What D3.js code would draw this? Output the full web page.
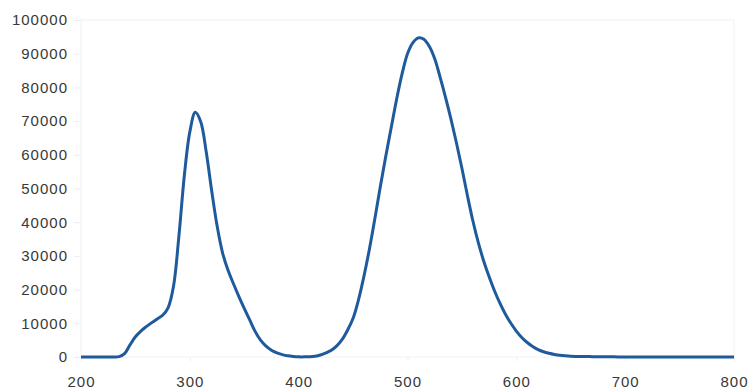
<!DOCTYPE html>
<html>
<head>
<meta charset="utf-8">
<script src="https://cdn.jsdelivr.net/npm/d3@7"></script>
<style>
  html, body { margin: 0; padding: 0; background: #fff; }
  svg { display: block; }
  .tick text { font-family: "Liberation Sans", Arial, sans-serif; font-size: 15px; letter-spacing: 1px; fill: #383838; }
</style>
</head>
<body>
<svg id="chart" width="750" height="390"></svg>
<script>
// Spectrum: wavelength (nm) vs. intensity
const wavelength = [200,205,210,215,220,225,230,235,240,245,250,255,260,265,270,275,280,285,290,295,
  300,305,310,315,320,325,330,335,340,345,350,355,360,365,370,375,380,385,390,395,
  400,405,410,415,420,425,430,435,440,445,450,455,460,465,470,475,480,485,490,495,
  500,505,510,515,520,525,530,535,540,545,550,555,560,565,570,575,580,585,590,595,
  600,605,610,615,620,625,630,635,640,645,650,660,670,680,690,700,720,740,760,780,800];
const intensity = [0,0,0,0,0,0,0,100,1000,3600,6000,7700,9000,10200,11300,12400,14600,21000,36000,54000,
  66800,72600,69800,61000,49500,39000,31000,25800,21800,18000,14400,11000,7600,5000,3200,2000,1200,700,350,150,
  50,40,100,250,600,1200,2000,3300,5200,8000,11500,17000,24000,32000,41000,50500,59500,68000,76500,84000,
  90000,93300,94700,94300,92200,88500,83000,77000,70500,63500,56000,48000,40500,34000,28500,23800,19600,15900,12700,10000,
  7700,5800,4300,3100,2200,1550,1100,750,500,350,250,150,100,60,40,20,10,0,0,0,0];

const xTicks = [200,300,400,500,600,700,800];
const yTicks = [0,10000,20000,30000,40000,50000,60000,70000,80000,90000,100000];

const margin = { left: 81, right: 16, top: 20, bottom: 33 };
const W = 750, H = 390;
const svg = d3.select("#chart");

const x = d3.scaleLinear().domain([200, 800]).range([margin.left, W - margin.right]);
const y = d3.scaleLinear().domain([0, 100000]).range([H - margin.bottom, margin.top]);

// faint plot frame
svg.append("rect")
  .attr("x", x(200)).attr("y", y(100000))
  .attr("width", x(800) - x(200)).attr("height", y(0) - y(100000))
  .attr("fill", "none").attr("stroke", "#f2f2f2").attr("stroke-width", 1);

const yAxis = svg.append("g")
  .attr("transform", `translate(${x(200)},0)`)
  .call(d3.axisLeft(y).tickValues(yTicks).tickFormat(d3.format("d")).tickSize(7).tickPadding(6));
yAxis.select(".domain").remove();
yAxis.selectAll(".tick line").attr("stroke", "#eeeeee");

const xAxis = svg.append("g")
  .attr("transform", `translate(0,${y(0)})`)
  .call(d3.axisBottom(x).tickValues(xTicks).tickFormat(d3.format("d")).tickSize(4).tickPadding(15));
xAxis.select(".domain").remove();
xAxis.selectAll(".tick line").attr("stroke", "#eeeeee");

const pts = wavelength.map((w, i) => [w, intensity[i]]);
svg.append("path")
  .datum(pts)
  .attr("fill", "none")
  .attr("stroke", "#1f5a9c")
  .attr("stroke-width", 3)
  .attr("stroke-linejoin", "round")
  .attr("d", d3.line().x(d => x(d[0])).y(d => y(Math.max(0, d[1]))).curve(d3.curveCatmullRom.alpha(0.5)));
</script>
</body>
</html>
